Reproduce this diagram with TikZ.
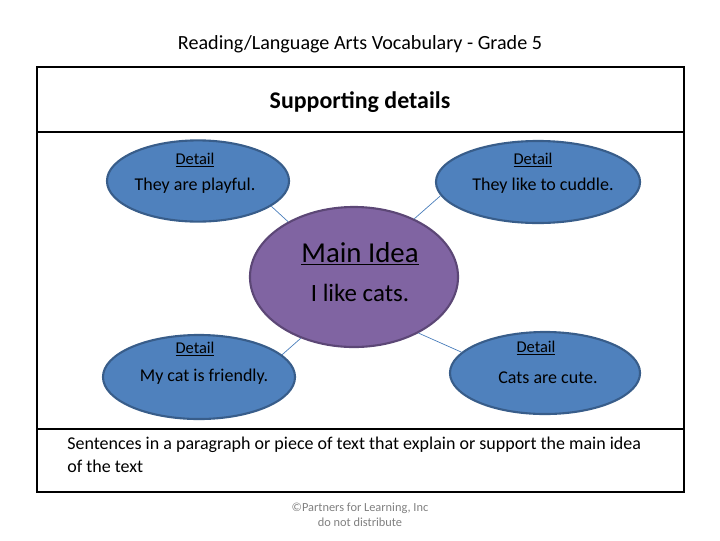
\documentclass[tikz,border=0pt]{standalone}
\usepackage{fontspec}
\setmainfont{Carlito}
\usetikzlibrary{shapes.geometric}

\definecolor{detailblue}{HTML}{4F81BD}
\definecolor{detailedge}{HTML}{385D8A}
\definecolor{mainpurple}{HTML}{8064A2}
\definecolor{mainedge}{HTML}{5C4776}
\definecolor{linkblue}{HTML}{4A7EBB}

\tikzset{
  detail/.style={ellipse, draw=detailedge, fill=detailblue, line width=1.5pt, inner sep=0pt},
  mainidea/.style={ellipse, draw=mainedge, fill=mainpurple, line width=1.5pt, inner sep=0pt},
  link/.style={draw=linkblue, line width=0.5pt},
  frameline/.style={line width=2pt},
  headfont/.style={font=\fontsize{11.7}{13}\selectfont},
  bodyfont/.style={font=\fontsize{12.8}{15}\selectfont},
}

\begin{document}
\begin{tikzpicture}[x=0.025cm, y=-0.025cm]
      \useasboundingbox (0,0) rectangle (720,540);

      % Title
      \node (title) at (360,44) {\fontsize{14.3}{17}\selectfont Reading/Language Arts Vocabulary - Grade 5};

      % Frame
      \draw[frameline] (37,67) rectangle (684,492);
      \draw[frameline] (37,132) -- (684,132);
      \draw[frameline] (37,429) -- (684,429);

      \node (heading) at (360,102) {\fontsize{17}{20}\selectfont\bfseries Supporting details};

      % Ellipses
      \node[detail, minimum width=4.55cm, minimum height=2.03cm] (tl) at (198,181) {};
      \node[detail, minimum width=5.1cm, minimum height=2.05cm] (tr) at (538,182) {};
      \node[detail, minimum width=4.8cm, minimum height=2.1cm] (bl) at (199,377) {};
      \node[detail, minimum width=4.75cm, minimum height=2.05cm] (br) at (545,373) {};
      \node[mainidea, minimum width=5.2cm, minimum height=3.5cm] (main) at (354,277) {};

      % Connectors
      \draw[link] (tl.-19) -- (main.140);
      \draw[link] (tr.188) -- (main.44);
      \draw[link] (bl.15) -- (main.229);
      \draw[link] (br.166) -- (main.319);

      % Texts in ellipses
      \node[headfont] (tlhead) at (195,160) {\underline{Detail}};
      \node[bodyfont] (tltext) at (195,186) {They are playful.};

      \node[headfont] (trhead) at (533,160) {\underline{Detail}};
      \node[bodyfont] (trtext) at (543,186) {They like to cuddle.};

      \node[headfont] (blhead) at (195,349) {\underline{Detail}};
      \node[bodyfont] (bltext) at (204,377) {My cat is friendly.};

      \node[headfont] (brhead) at (536,348) {\underline{Detail}};
      \node[bodyfont] (brtext) at (548,378) {Cats are cute.};

      \node (mainhead) at (360,254) {\fontsize{20.5}{24}\selectfont\underline{Main Idea}};
      \node (maintext) at (360,293) {\fontsize{17.7}{21}\selectfont I like cats.};

      % Definition
      \node[bodyfont, anchor=north west, align=left, inner sep=0pt] (definition) at (67,437)
        {Sentences in a paragraph or piece of text that explain or support the main idea\\[1pt]of the text};

      % Footer
      \node[text=gray, align=center, font=\fontsize{8.8}{10.5}\selectfont] (footer) at (360,515)
        {©Partners for Learning, Inc\\do not distribute};

\end{tikzpicture}
\end{document}
